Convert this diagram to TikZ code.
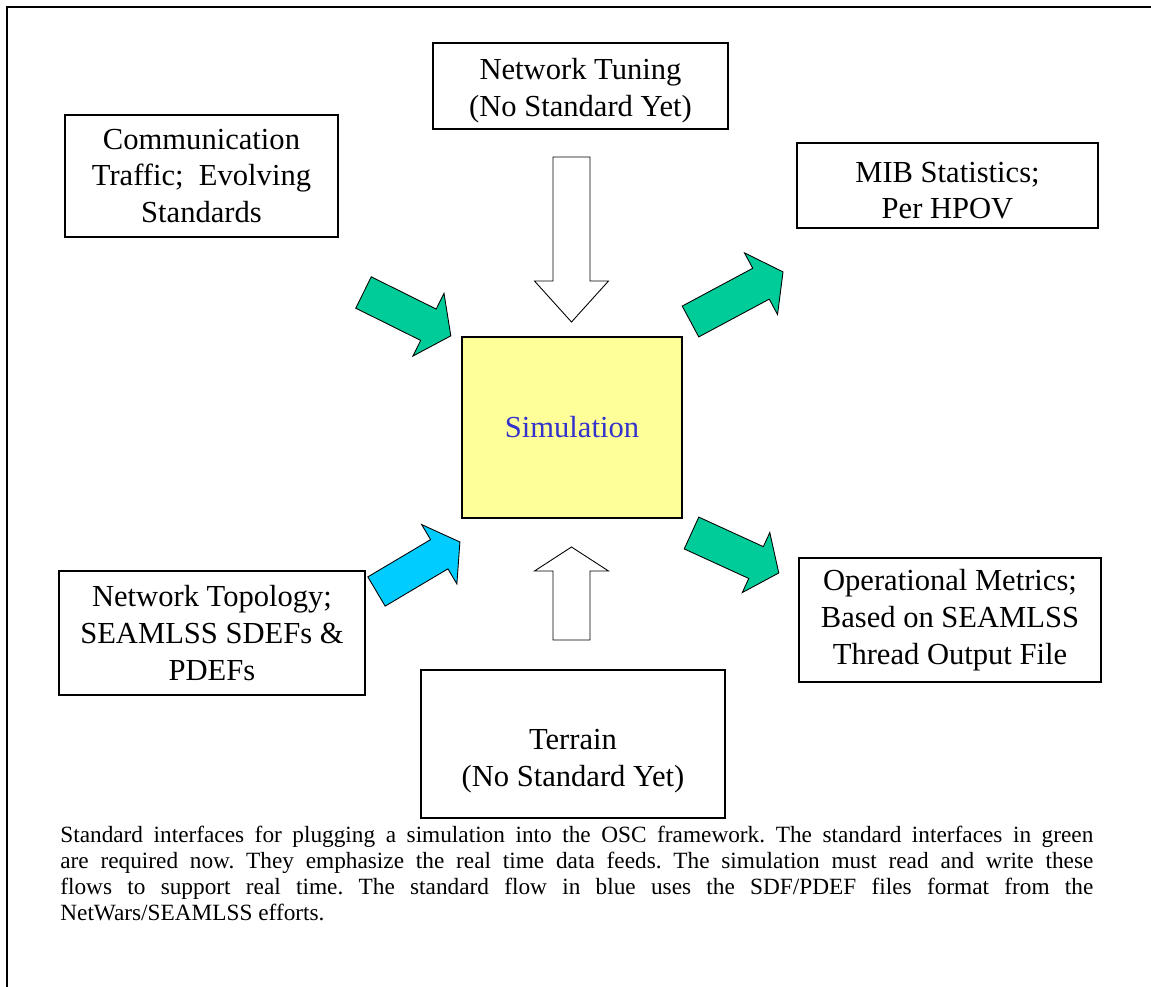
\documentclass[tikz,border=0pt]{standalone}
\usepackage{fontspec}
\setmainfont{Liberation Serif}
\usepackage{tikz}

\definecolor{arrowgreen}{RGB}{0,204,153}
\definecolor{arrowblue}{RGB}{0,204,255}
\definecolor{simyellow}{RGB}{255,255,153}
\definecolor{simblue}{RGB}{51,51,204}

\begin{document}
\begin{tikzpicture}[
	box/.style={shape=rectangle,draw=black,line width=0.7pt,align=center,inner sep=0pt,font=\fontsize{17.4}{21}\selectfont},
	garrow/.style={draw=black,line width=0.5pt,fill=arrowgreen,line join=miter},
	barrow/.style={draw=black,line width=0.5pt,fill=arrowblue,line join=miter},
	warrow/.style={draw=black,line width=0.5pt,fill=white,line join=miter}]
	
	\useasboundingbox (0,0) rectangle (23.02,-19.74);
	\draw[line width=1.1pt] (23.1,-0.14) -- (0.14,-0.14) -- (0.14,-19.8);
	
	\node[box,minimum width=5.46cm,minimum height=2.44cm] (comm) at (4.03,-3.52)  {Communication\\Traffic;\ \ Evolving\\Standards};
	\node[box,minimum width=5.9cm,minimum height=1.72cm] (tune) at (11.61,-1.72) {\rule{0pt}{0.62cm}Network Tuning\\(No Standard Yet)};
	\node[box,minimum width=6.02cm,minimum height=1.70cm] (mib) at (18.95,-3.71)  {\rule{0pt}{0.61cm}MIB Statistics;\\Per HPOV};
	
	\node[box,fill=simyellow,text=simblue,minimum width=4.40cm,minimum height=3.62cm] (sim) at (11.44,-8.55) {Simulation};
	
	\node[box,minimum width=6.12cm,minimum height=2.48cm] (topo) at (4.24,-12.66) {Network Topology;\\SEAMLSS SDEFs \&\\PDEFs};
	\node[box,minimum width=6.08cm,minimum height=2.96cm] (terr) at (11.46,-14.88) {\rule{0pt}{1.08cm}Terrain\\(No Standard Yet)};
	\node[box,minimum width=6.04cm,minimum height=2.48cm] (oper) at (19.0,-12.4) {Operational Metrics;\\Based on SEAMLSS\\Thread Output File};
	
	% block arrows
	\draw[garrow,shift={(7.27,-5.85)},rotate=-26.4] (0,-0.35) -- (1.45,-0.35) -- (1.45,-0.7) -- (1.95,0) -- (1.45,0.7) -- (1.45,0.35) -- (0,0.35) -- cycle;
	\draw[garrow,shift={(13.81,-6.43)},rotate=28.2] (0,-0.35) -- (1.6,-0.35) -- (1.6,-0.7) -- (2.1,0) -- (1.6,0.7) -- (1.6,0.35) -- (0,0.35) -- cycle;
	\draw[barrow,shift={(7.53,-11.83)},rotate=30.7] (0,-0.34) -- (1.46,-0.34) -- (1.46,-0.69) -- (1.94,0) -- (1.46,0.69) -- (1.46,0.34) -- (0,0.34) -- cycle;
	\draw[garrow,shift={(13.83,-10.66)},rotate=-24.6] (0,-0.35) -- (1.42,-0.35) -- (1.42,-0.66) -- (1.92,0) -- (1.42,0.66) -- (1.42,0.35) -- (0,0.35) -- cycle;
	\draw[warrow,shift={(11.43,-3.14)},rotate=-90] (0,-0.37) -- (2.48,-0.37) -- (2.48,-0.74) -- (3.3,0) -- (2.48,0.74) -- (2.48,0.37) -- (0,0.37) -- cycle;
	\draw[warrow,shift={(11.43,-12.8)},rotate=90] (0,-0.37) -- (1.38,-0.37) -- (1.38,-0.74) -- (1.86,0) -- (1.38,0.74) -- (1.38,0.37) -- (0,0.37) -- cycle;
	
	\node[anchor=north west,inner sep=0pt,text width=20.66cm,align=justify,font=\fontsize{13.25}{14.8}\selectfont] (note) at (1.2,-16.52)
	{\frenchspacing Standard interfaces for plugging a simulation into the OSC framework. The standard interfaces in green\linebreak
	are required now. They emphasize the real time data feeds. The simulation must read and write these\linebreak
	flows to support real time. The standard flow in blue uses the SDF/PDEF files format from the\linebreak
	NetWars/SEAMLSS efforts.};
	
\end{tikzpicture}
\end{document}
